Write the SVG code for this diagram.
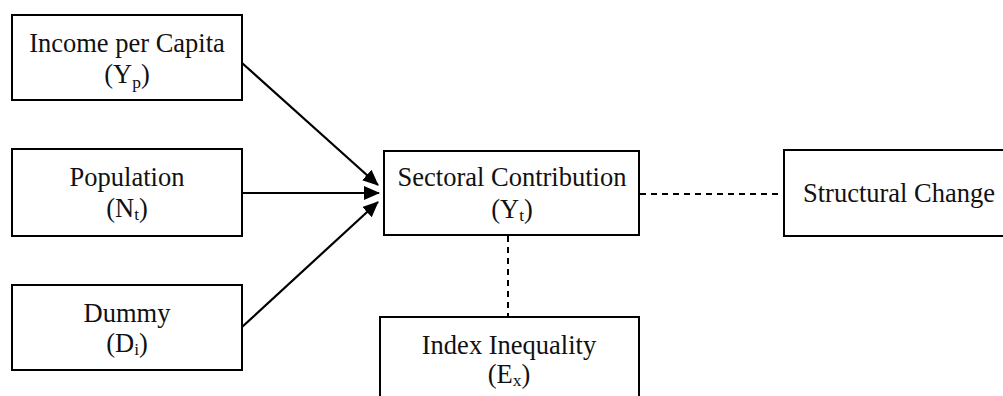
<svg xmlns="http://www.w3.org/2000/svg" width="1003" height="396" viewBox="0 0 1003 396">
<style>
.box{fill:#fff;stroke:#000;stroke-width:2}
.t{font-family:"Liberation Serif","Times New Roman",serif;font-size:26.5px;fill:#111;text-anchor:middle}
.s{font-size:17.5px}
.arr{stroke:#000;stroke-width:2.2;fill:none}
.dash{stroke:#000;stroke-width:2;fill:none;stroke-dasharray:6 5}
</style>
<defs>
<marker id="ah" markerUnits="userSpaceOnUse" markerWidth="18" markerHeight="16" refX="15" refY="7" orient="auto">
<path d="M0,0 L16,7 L0,14 z" fill="#000"/>
</marker>
</defs>
<g id="connectors">
<line class="arr" x1="242" y1="63" x2="378" y2="185" marker-end="url(#ah)"/>
<line class="arr" x1="242" y1="193" x2="379" y2="193" marker-end="url(#ah)"/>
<line class="arr" x1="242" y1="327" x2="378" y2="202" marker-end="url(#ah)"/>
<line class="dash" x1="640" y1="194" x2="784" y2="194"/>
<line class="dash" x1="508" y1="236" x2="508" y2="317"/>
</g>
<g id="income">
<rect class="box" x="12" y="15" width="230" height="85"/>
<text class="t" x="127" y="52">Income per Capita</text>
<text class="t" x="127" y="83">(Y<tspan class="s" dy="5">p</tspan><tspan dy="-5">)</tspan></text>
</g>
<g id="population">
<rect class="box" x="12" y="149" width="230" height="87"/>
<text class="t" x="127" y="186">Population</text>
<text class="t" x="127" y="217">(N<tspan class="s" dy="3">t</tspan><tspan dy="-3">)</tspan></text>
</g>
<g id="dummy">
<rect class="box" x="12" y="285" width="230" height="85"/>
<text class="t" x="127" y="322">Dummy</text>
<text class="t" x="127" y="352">(D<tspan class="s" dy="3">i</tspan><tspan dy="-3">)</tspan></text>
</g>
<g id="sectoral">
<rect class="box" x="384" y="151" width="255" height="84"/>
<text class="t" x="512" y="186">Sectoral Contribution</text>
<text class="t" x="512" y="218">(Y<tspan class="s" dy="3">t</tspan><tspan dy="-3">)</tspan></text>
</g>
<g id="structural">
<rect class="box" x="784" y="150" width="230" height="86"/>
<text class="t" x="899" y="202">Structural Change</text>
</g>
<g id="inequality">
<rect class="box" x="380" y="317" width="259" height="90"/>
<text class="t" x="509" y="354">Index Inequality</text>
<text class="t" x="509" y="383">(E<tspan class="s" dy="3">x</tspan><tspan dy="-3">)</tspan></text>
</g>
</svg>
